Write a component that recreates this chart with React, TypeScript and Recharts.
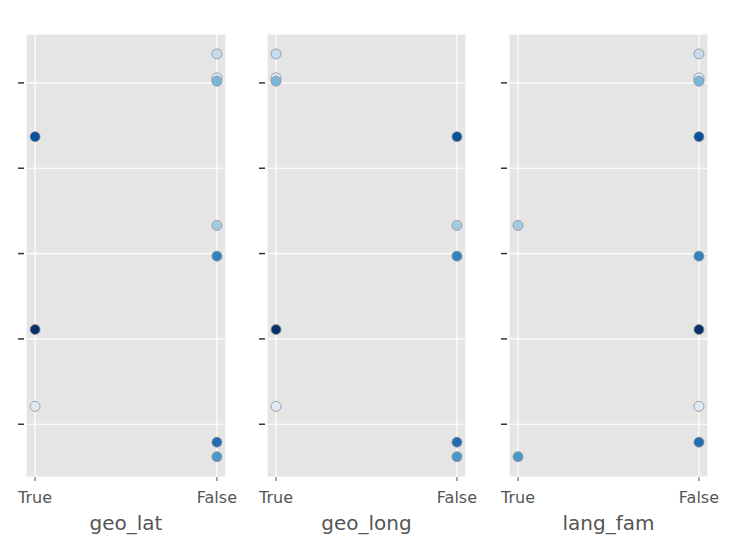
import { ScatterChart, Scatter, XAxis, YAxis, CartesianGrid } from "recharts";

// one entry per observation, top to bottom on the shared y axis
const yValues = [4.34, 4.06, 4.02, 3.37, 2.33, 1.97, 1.11, 0.21, -0.21, -0.38];
const shades = [
  "#c6dbef",
  "#dbe9f6",
  "#7ab6d9",
  "#08519c",
  "#a3cce3",
  "#3282be",
  "#08306b",
  "#deebf7",
  "#1f6eb3",
  "#4a98c9",
];
const geoLat = [false, false, false, true, false, false, true, true, false, false];
const geoLong = [true, true, true, false, false, false, true, true, false, false];
const langFam = [false, false, false, false, true, false, false, false, false, true];

const panelNames = ["geo_lat", "geo_long", "lang_fam"];
const panelFlags = [geoLat, geoLong, langFam];
const xTickLabels = ["True", "False"];
const yTicks = [0, 1, 2, 3, 4];

const panelPos = [
  { left: 0, width: 226 },
  { left: 241, width: 225 },
  { left: 483, width: 225 },
];

const FONT = "DejaVu Sans, sans-serif";

function Dot(props: any) {
  const { cx, cy, payload } = props;
  return <circle cx={cx} cy={cy} r={5} fill={payload.color} stroke="#8f8f8f" strokeWidth={0.8} />;
}

// y ticks carry no labels, only the short dark tick mark
function YTickMark(props: any) {
  const { y, payload } = props;
  const px = props.x;
  return (
    <line
      key={payload.value}
      x1={px - 8}
      x2={px - 2}
      y1={y}
      y2={y}
      stroke="#333333"
      strokeWidth={1.5}
    />
  );
}

function Panel({ name, flags, width }: { name: string; flags: boolean[]; width: number }) {
  const data = yValues.map((y, i) => ({ x: flags[i] ? 0 : 1, y, color: shades[i] }));
  return (
    <ScatterChart width={width + 30} height={538} margin={{ top: 34, right: 30, left: 0, bottom: 0 }}>
      <CartesianGrid fill="#e5e5e5" stroke="#ffffff" strokeWidth={1.2} />
      <XAxis
        type="number"
        dataKey="x"
        domain={[-0.05, 1.05]}
        ticks={[0, 1]}
        tickFormatter={(v: number) => xTickLabels[v]}
        axisLine={false}
        tickSize={4}
        tickMargin={11}
        tickLine={{ stroke: "#555555" }}
        tick={{ fill: "#555555", fontSize: 16, fontFamily: FONT }}
        height={61}
        label={{
          value: name,
          position: "insideBottom",
          offset: 8,
          fill: "#555555",
          fontSize: 20,
          fontFamily: FONT,
        }}
      />
      <YAxis
        type="number"
        dataKey="y"
        domain={[-0.618, 4.573]}
        ticks={yTicks}
        width={26}
        axisLine={false}
        tickLine={false}
        tickSize={0}
        tickMargin={0}
        tick={YTickMark}
      />
      <Scatter data={data} shape={Dot} isAnimationActive={false} />
    </ScatterChart>
  );
}

export default function App() {
  return (
    <div style={{ position: "absolute", top: 0, left: 0, width: 730, height: 538, background: "#fff" }}>
      {panelNames.map((name, i) => (
        <div key={name} style={{ position: "absolute", top: 0, left: panelPos[i].left }}>
          <Panel name={name} flags={panelFlags[i]} width={panelPos[i].width} />
        </div>
      ))}
    </div>
  );
}
